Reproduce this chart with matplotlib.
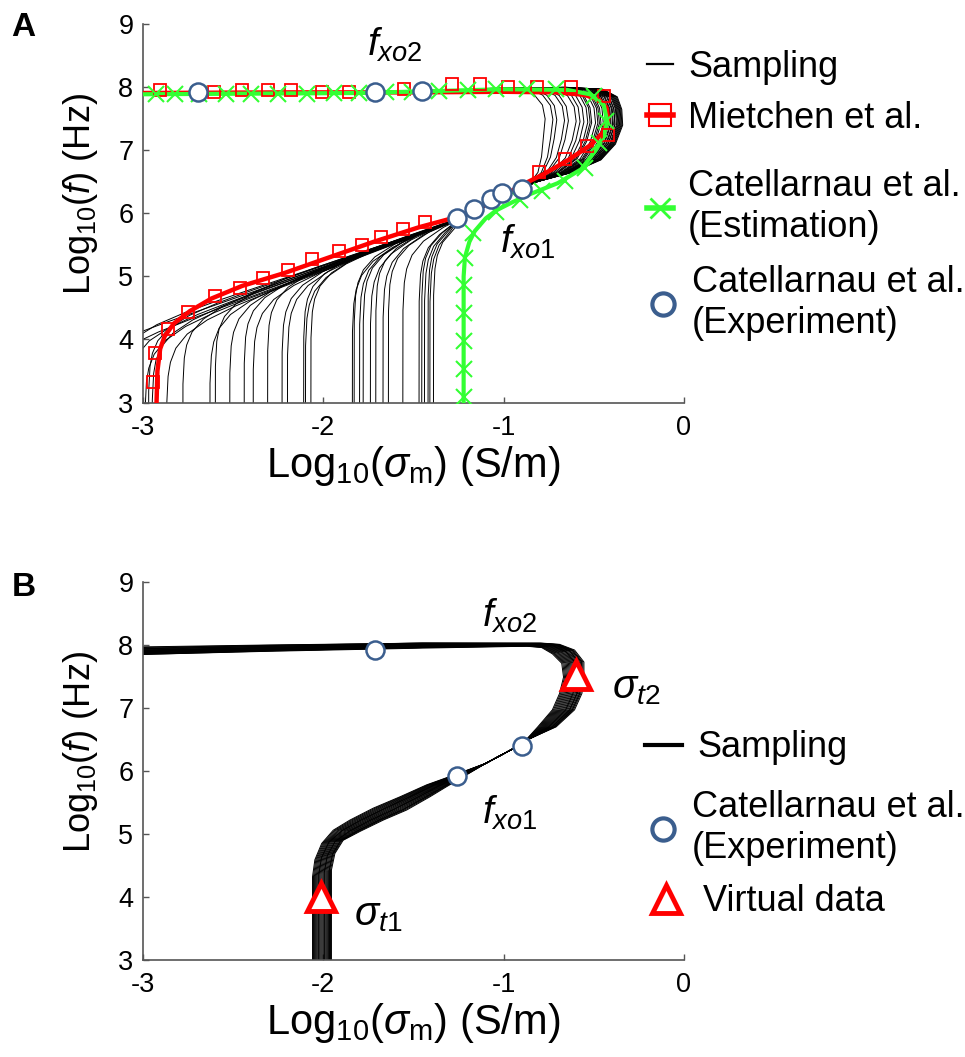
import matplotlib
matplotlib.use('Agg')
import matplotlib.pyplot as plt
from matplotlib.lines import Line2D
from matplotlib.legend import Legend
import numpy as np

plt.rcParams['font.family'] = ['Liberation Sans', 'DejaVu Sans']
plt.rcParams['mathtext.fontset'] = 'custom'
plt.rcParams['mathtext.rm'] = 'Liberation Sans'
plt.rcParams['mathtext.it'] = 'Liberation Sans:italic'
plt.rcParams['mathtext.bf'] = 'Liberation Sans:bold'
plt.rcParams['axes.unicode_minus'] = False

RED = '#ff0000'
GREEN = '#33ff33'
BLUE = '#3b5e8e'

# ---------------- panel A data ----------------
# Mietchen et al. (line and square markers)
mie_x = [-2.925, -2.92, -2.905, -2.88, -2.83, -2.74, -2.62, -2.45, -2.22, -1.97, -1.72, -1.47,
         -1.25, -1.05, -0.90, -0.78, -0.64, -0.52, -0.45, -0.42, -0.43, -0.47, -0.55, -0.70,
         -1.0, -1.5, -2.2, -3.0]
mie_y = [3.0, 3.5, 3.85, 4.05, 4.25, 4.45, 4.65, 4.85, 5.05, 5.3, 5.55, 5.78,
         5.95, 6.2, 6.45, 6.62, 6.85, 7.08, 7.28, 7.5, 7.68, 7.8, 7.88, 7.92,
         7.93, 7.92, 7.92, 7.91]
mie_sq_x = [-2.947, -2.932, -2.861, -2.748, -2.599, -2.461, -2.332, -2.195, -2.062, -1.913,
            -1.786, -1.679, -1.560, -1.437, -0.803, -0.659, -0.536, -0.424, -0.444, -0.628,
            -0.813, -0.977, -1.130, -1.288, -1.550, -1.857, -2.005, -2.181, -2.308, -2.451,
            -2.609, -2.906]
mie_sq_y = [3.32, 3.79, 4.17, 4.43, 4.69, 4.82, 4.97, 5.10, 5.27, 5.40,
            5.50, 5.62, 5.75, 5.87, 6.65, 6.86, 7.07, 7.24, 7.86, 8.01,
            8.01, 8.01, 8.05, 8.05, 7.98, 7.93, 7.93, 7.95, 7.95, 7.96,
            7.93, 7.96]

# Catellarnau et al. estimation (line and x markers)
est_x = [-1.222, -1.222, -1.215, -1.19, -1.16, -1.10, -1.04, -0.95, -0.85, -0.70, -0.57,
         -0.49, -0.45, -0.425, -0.445, -0.52, -0.65, -1.0, -1.4, -1.8, -3.0]
est_y = [3.0, 5.0, 5.3, 5.55, 5.72, 5.92, 6.05, 6.18, 6.31, 6.48, 6.70,
         7.0, 7.2, 7.45, 7.72, 7.89, 7.96, 7.97, 7.94, 7.91, 7.89]
est_mk_x = [-1.222, -1.222, -1.222, -1.222, -1.222, -1.215, -1.17, -1.04, -0.91, -0.79,
            -0.66, -0.55, -0.47, -0.43, -0.50, -0.71, -0.87, -1.04, -1.20, -1.36,
            -1.51, -1.65, -1.80, -1.94, -2.09, -2.25, -2.40, -2.54, -2.69, -2.82, -2.93]
est_mk_y = [3.08, 3.53, 3.98, 4.42, 4.86, 5.30, 5.69, 6.03, 6.22, 6.36,
            6.52, 6.72, 7.12, 7.47, 7.86, 7.97, 7.97, 7.97, 7.95, 7.94,
            7.93, 7.92, 7.91, 7.91, 7.90, 7.90, 7.90, 7.89, 7.89, 7.89, 7.89]

# Catellarnau et al. experiment
exp_a_x = [-2.697, -1.714, -1.454, -1.259, -1.165, -1.069, -1.007, -0.901]
exp_a_y = [7.92, 7.92, 7.94, 5.92, 6.07, 6.23, 6.33, 6.39]

# sampling curves A: low-conductivity asymptote, slope of common line, bulge position
samp_a_xlow = [-3.45, -3.3, -3.15, -3.08, -2.99, -2.97, -2.95, -2.87, -2.78, -2.63, -2.60, -2.52,
               -2.44, -2.39, -2.31, -2.23, -2.20, -2.11, -2.10, -2.07, -1.84, -1.83, -1.80, -1.78,
               -1.74, -1.71, -1.67, -1.64, -1.56, -1.47, -1.455, -1.44, -1.42, -1.41, -1.39]
samp_a_k = [1.02, 1.08, 0.98, 1.05, 1.10, 1.00, 1.06, 1.12, 1.03, 1.09, 0.99, 1.07,
            1.04, 1.11, 1.01, 1.06, 1.10, 1.00, 1.08, 1.03, 1.12, 1.02, 1.07, 1.05,
            1.11, 0.99, 1.09, 1.04, 1.10, 1.06, 1.01, 1.08, 1.03, 1.12, 1.05]
samp_a_t = [0.95, 0.7, 1.0, 0.85, 0.3, 0.9, 0.6, 0.97, 0.8, 0.45, 0.92, 0.75,
            0.15, 0.88, 0.65, 0.98, 0.5, 0.82, 0.93, 0.0, 0.72, 0.87, 0.4, 0.96,
            0.78, 0.58, 0.9, 0.25, 0.84, 0.99, 0.68, 0.94, 0.55, 0.8, 0.1]

# knee shape (offset along common line, offset in x)
knee_w = [-4.0, -1.0, -0.6, -0.4, -0.2, 0.0, 0.2, 0.4, 0.6, 0.8]
knee_u = [0.0, 0.0015, 0.009, 0.022, 0.052, 0.115, 0.226, 0.385, 0.575, 0.777]

# convergence point and upper bulge boundaries (panel A)
conv_a = [(-1.25, 5.9), (-1.1, 6.12), (-0.95, 6.33)]
bulge_a_in = [(-0.86, 6.46), (-0.81, 6.65), (-0.79, 6.9), (-0.78, 7.2), (-0.77, 7.5),
              (-0.785, 7.72), (-0.83, 7.88), (-0.90, 7.97), (-1.05, 7.99)]
bulge_a_out = [(-0.82, 6.50), (-0.62, 6.65), (-0.46, 6.85), (-0.38, 7.1), (-0.34, 7.4),
               (-0.345, 7.65), (-0.37, 7.85), (-0.45, 7.97), (-0.65, 8.0)]
top_a = [(-1.3, 7.94), (-3.0, 7.89)]

# ---------------- panel B data ----------------
low_b_left = [(-2.06, 2.8), (-2.06, 4.32), (-2.047, 4.59), (-2.009, 4.85), (-1.945, 5.06),
              (-1.853, 5.22), (-1.723, 5.41), (-1.575, 5.59), (-1.427, 5.78), (-1.30, 5.91)]
low_b_right = [(-1.955, 2.8), (-1.955, 4.43), (-1.936, 4.69), (-1.89, 4.90), (-1.797, 5.04),
               (-1.668, 5.22), (-1.538, 5.38), (-1.409, 5.59), (-1.317, 5.75), (-1.24, 5.88)]
conv_b = [(-1.1, 6.12), (-0.95, 6.35)]
bulge_b_in = [(-0.893, 6.44), (-0.811, 6.70), (-0.73, 6.97), (-0.69, 7.23), (-0.668, 7.49),
              (-0.678, 7.71), (-0.73, 7.86), (-0.79, 7.96), (-0.873, 7.98)]
bulge_b_out = [(-0.873, 6.49), (-0.709, 6.70), (-0.607, 6.97), (-0.566, 7.23), (-0.555, 7.49),
               (-0.555, 7.73), (-0.607, 7.92), (-0.69, 8.01), (-0.79, 8.03)]
samp_b_tlow = [0.0, 0.05, 0.1, 0.15, 0.2, 0.25, 0.3, 0.35, 0.4, 0.45, 0.5, 0.55,
               0.6, 0.65, 0.7, 0.75, 0.8, 0.85, 0.9, 0.95, 1.0, 0.33, 0.62, 0.88]
samp_b_tup = [0.6, 0.2, 0.9, 0.45, 0.75, 0.1, 0.55, 0.95, 0.3, 0.8, 0.0, 0.65,
              0.4, 1.0, 0.25, 0.7, 0.5, 0.85, 0.15, 0.6, 0.35, 0.9, 0.05, 0.78]
samp_b_ytop = [8.00, 7.97, 8.02, 7.98, 8.01, 7.96, 8.00, 8.03, 7.97, 8.02, 7.95, 8.01,
               7.99, 8.03, 7.96, 8.00, 7.98, 8.02, 7.97, 8.01, 7.99, 8.03, 7.96, 8.00]
samp_b_yleft = [7.90, 7.86, 7.94, 7.88, 7.92, 7.85, 7.91, 7.96, 7.87, 7.93, 7.85, 7.90,
                7.89, 7.97, 7.86, 7.92, 7.88, 7.94, 7.87, 7.91, 7.89, 7.95, 7.86, 7.90]

exp_b_x = [-1.714, -1.259, -0.901]
exp_b_y = [7.92, 5.92, 6.40]
virt_x = [-2.015, -0.60]
virt_y = [4.0, 7.52]


def blend(p, q, t):
    p = np.array(p)
    q = np.array(q)
    return (1 - t) * p + t * q


def style_axes(ax):
    ax.set_xlim(-3, 0)
    ax.set_ylim(3, 9)
    ax.set_xticks([-3, -2, -1, 0])
    ax.set_yticks([3, 4, 5, 6, 7, 8, 9])
    for s in ['top', 'right']:
        ax.spines[s].set_visible(False)
    for s in ['left', 'bottom']:
        ax.spines[s].set_color('#555555')
        ax.spines[s].set_linewidth(1.2)
    ax.tick_params(direction='in', length=4, width=1, color='#555555', labelsize=19.5)
    ax.tick_params(axis='x', pad=9)
    ax.tick_params(axis='y', pad=7)
    ax.set_xlabel(r'Log$_{10}$($\sigma_{\mathrm{m}}$) (S/m)', fontsize=30, labelpad=2)
    ax.set_ylabel(r'Log$_{10}$($\mathit{f}$) (Hz)', fontsize=26)
    ax.yaxis.set_label_coords(-0.079, 0.55)


def add_entry(ax, handle, label, x, y, hl, pad):
    leg = Legend(ax, [handle], [label], loc='center left', bbox_to_anchor=(x, y),
                 bbox_transform=ax.transAxes, frameon=False, fontsize=26,
                 handlelength=hl, handletextpad=pad, borderpad=0, borderaxespad=0,
                 numpoints=1)
    ax.add_artist(leg)


fig = plt.figure(figsize=(9.65, 10.57), dpi=100)
axA = fig.add_axes([0.1482, 0.6192, 0.5606, 0.3578])
axB = fig.add_axes([0.1482, 0.0918, 0.5606, 0.3576])

# ---- panel A ----
bulge_in = np.array(bulge_a_in)
bulge_out = np.array(bulge_a_out)
for xl, k, t in zip(samp_a_xlow, samp_a_k, samp_a_t):
    yk = conv_a[0][1] + k * (xl - conv_a[0][0])
    xs = [xl + u for u in knee_u]
    ys = [yk + k * w for w in knee_w]
    pts = [(a, b) for a, b in zip(xs, ys) if a < -1.27 and b < 5.88]
    pts += conv_a
    pts += [tuple(p) for p in blend(bulge_in, bulge_out, t)]
    pts += top_a
    px, py = zip(*pts)
    axA.plot(px, py, color='black', lw=0.7, zorder=2)

axA.plot(mie_x, mie_y, color=RED, lw=3.2, zorder=3)
axA.plot(est_x, est_y, color=GREEN, lw=3.0, zorder=4)
axA.plot(mie_sq_x, mie_sq_y, 's', ms=8.5, mfc='none', mec=RED, mew=1.3, zorder=5)
axA.plot(est_mk_x, est_mk_y, 'x', ms=12, mec=GREEN, mew=1.5, zorder=5)
axA.plot(exp_a_x, exp_a_y, 'o', ms=13, mfc='white', mec=BLUE, mew=1.8, zorder=6)

axA.text(-1.76, 8.68, r'$\mathit{f}_{\mathit{xo2}}$', fontsize=28, ha='left', va='center')
axA.text(-1.02, 5.55, r'$\mathit{f}_{\mathit{xo1}}$', fontsize=28, ha='left', va='center')
style_axes(axA)

add_entry(axA, Line2D([], [], color='black', lw=1.6), 'Sampling', 0.9316, 0.887, 0.72, 0.42)
add_entry(axA, Line2D([], [], color=RED, lw=4, marker='s', ms=16, mfc='none', mec=RED, mew=1.5),
          'Mietchen et al.', 0.9316, 0.752, 0.72, 0.42)
add_entry(axA, Line2D([], [], color=GREEN, lw=4, marker='x', ms=14, mec=GREEN, mew=2),
          'Catellarnau et al.\n(Estimation)', 0.9316, 0.517, 0.72, 0.42)
add_entry(axA, Line2D([], [], ls='none', marker='o', ms=16, mfc='white', mec=BLUE, mew=3),
          'Catellarnau et al.\n(Experiment)', 0.9316, 0.263, 0.88, 0.36)

# ---- panel B ----
lb_l = np.array(low_b_left)
lb_r = np.array(low_b_right)
ub_i = np.array(bulge_b_in)
ub_o = np.array(bulge_b_out)
for tl, tu, yt, yl in zip(samp_b_tlow, samp_b_tup, samp_b_ytop, samp_b_yleft):
    pts = [tuple(p) for p in blend(lb_l, lb_r, tl)]
    pts += conv_b
    pts += [tuple(p) for p in blend(ub_i, ub_o, tu)]
    pts += [(-1.45, yt), (-2.3, (yt + yl) / 2), (-3.0, yl)]
    px, py = zip(*pts)
    axB.plot(px, py, color='black', lw=0.7, zorder=2)

axB.plot(exp_b_x, exp_b_y, 'o', ms=13, mfc='white', mec=BLUE, mew=1.8, zorder=6)
axB.plot(virt_x, virt_y, '^', ms=20, mfc='white', mec=RED, mew=3.5, zorder=6)

axB.text(-1.12, 8.47, r'$\mathit{f}_{\mathit{xo2}}$', fontsize=28, ha='left', va='center')
axB.text(-1.12, 5.34, r'$\mathit{f}_{\mathit{xo1}}$', fontsize=28, ha='left', va='center')
axB.text(-0.40, 7.32, r'$\sigma_{\mathit{t2}}$', fontsize=29, ha='left', va='center')
axB.text(-1.83, 3.71, r'$\sigma_{\mathit{t1}}$', fontsize=29, ha='left', va='center')
style_axes(axB)

add_entry(axB, Line2D([], [], color='black', lw=3), 'Sampling', 0.9279, 0.561, 1.03, 0.42)
add_entry(axB, Line2D([], [], ls='none', marker='o', ms=16, mfc='white', mec=BLUE, mew=3),
          'Catellarnau et al.\n(Experiment)', 0.9316, 0.349, 0.88, 0.36)
add_entry(axB, Line2D([], [], ls='none', marker='^', ms=20, mfc='white', mec=RED, mew=3.5),
          'Virtual data', 0.9316, 0.154, 1.08, 0.47)

fig.text(0.012, 0.989, 'A', fontsize=24, fontweight='bold', va='top', ha='left')
fig.text(0.012, 0.459, 'B', fontsize=24, fontweight='bold', va='top', ha='left')

fig.savefig('out.png', dpi=100)
